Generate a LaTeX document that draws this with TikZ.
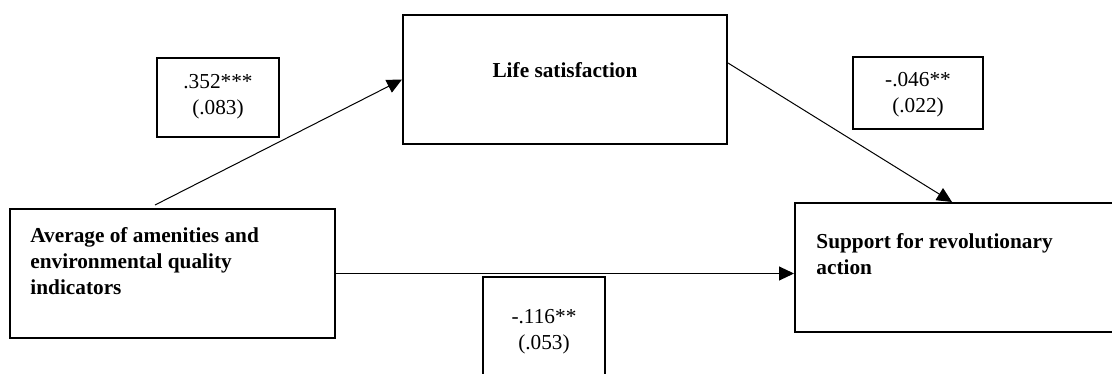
\documentclass[tikz,border=0pt]{standalone}
\usepackage{fontspec}
\setmainfont{Liberation Serif}
\usetikzlibrary{arrows.meta}
\begin{document}
\begin{tikzpicture}[x=0.5pt,y=-0.5pt,
  box/.style={draw, line width=1pt, inner sep=0pt, fill=none},
  lbl/.style={inner sep=0pt, font=\fontsize{10.65}{13}\selectfont},
  blbl/.style={inner sep=0pt, font=\fontsize{10.65}{13}\selectfont\bfseries},
  arr/.style={line width=0.5pt, -{Triangle[length=7.5pt,width=7pt]}}]
\clip (0,0) rectangle (1112,374);
\fill[white] (0,0) rectangle (1112,374);
% boxes
\node[box, minimum width=162pt, minimum height=64.5pt] (life) at (565,79.5) {};
\node[box, minimum width=61pt, minimum height=39.5pt] (b352) at (218,97.5) {};
\node[box, minimum width=65pt, minimum height=36pt] (b046) at (918,93) {};
\node[box, minimum width=162.5pt, minimum height=64.5pt] (avg) at (172.5,273.5) {};
\node[box, minimum width=172.5pt, minimum height=64.5pt] (supp) at (967.5,267.5) {};
\node[box, minimum width=61pt, minimum height=61.5pt] (b116) at (544,338.5) {};
% texts
\node[blbl] (tlife) at (565,70) {Life satisfaction};
\node[lbl, align=center] (t352) at (218,97) {.352***\\(.083)};
\node[lbl, align=center] (t046) at (918,95) {-.046**\\(.022)};
\node[lbl, align=center] (t116) at (544,332) {-.116**\\(.053)};
\node[blbl, align=left, anchor=north west] (tavg) at (30,227.5) {Average of amenities and\\environmental quality\\indicators};
\node[blbl, align=left, anchor=north west] (tsupp) at (816,233.5) {Support for revolutionary\\action};
% connectors
\coordinate (a1) at (155,205);
\draw[arr] (a1) -- (life.west);
\draw[arr] ([yshift=8.25pt]life.east) -- ([xshift=79pt]supp.north west);
\draw[arr] (avg.east) -- (avg.east -| supp.west);
\end{tikzpicture}
\end{document}
